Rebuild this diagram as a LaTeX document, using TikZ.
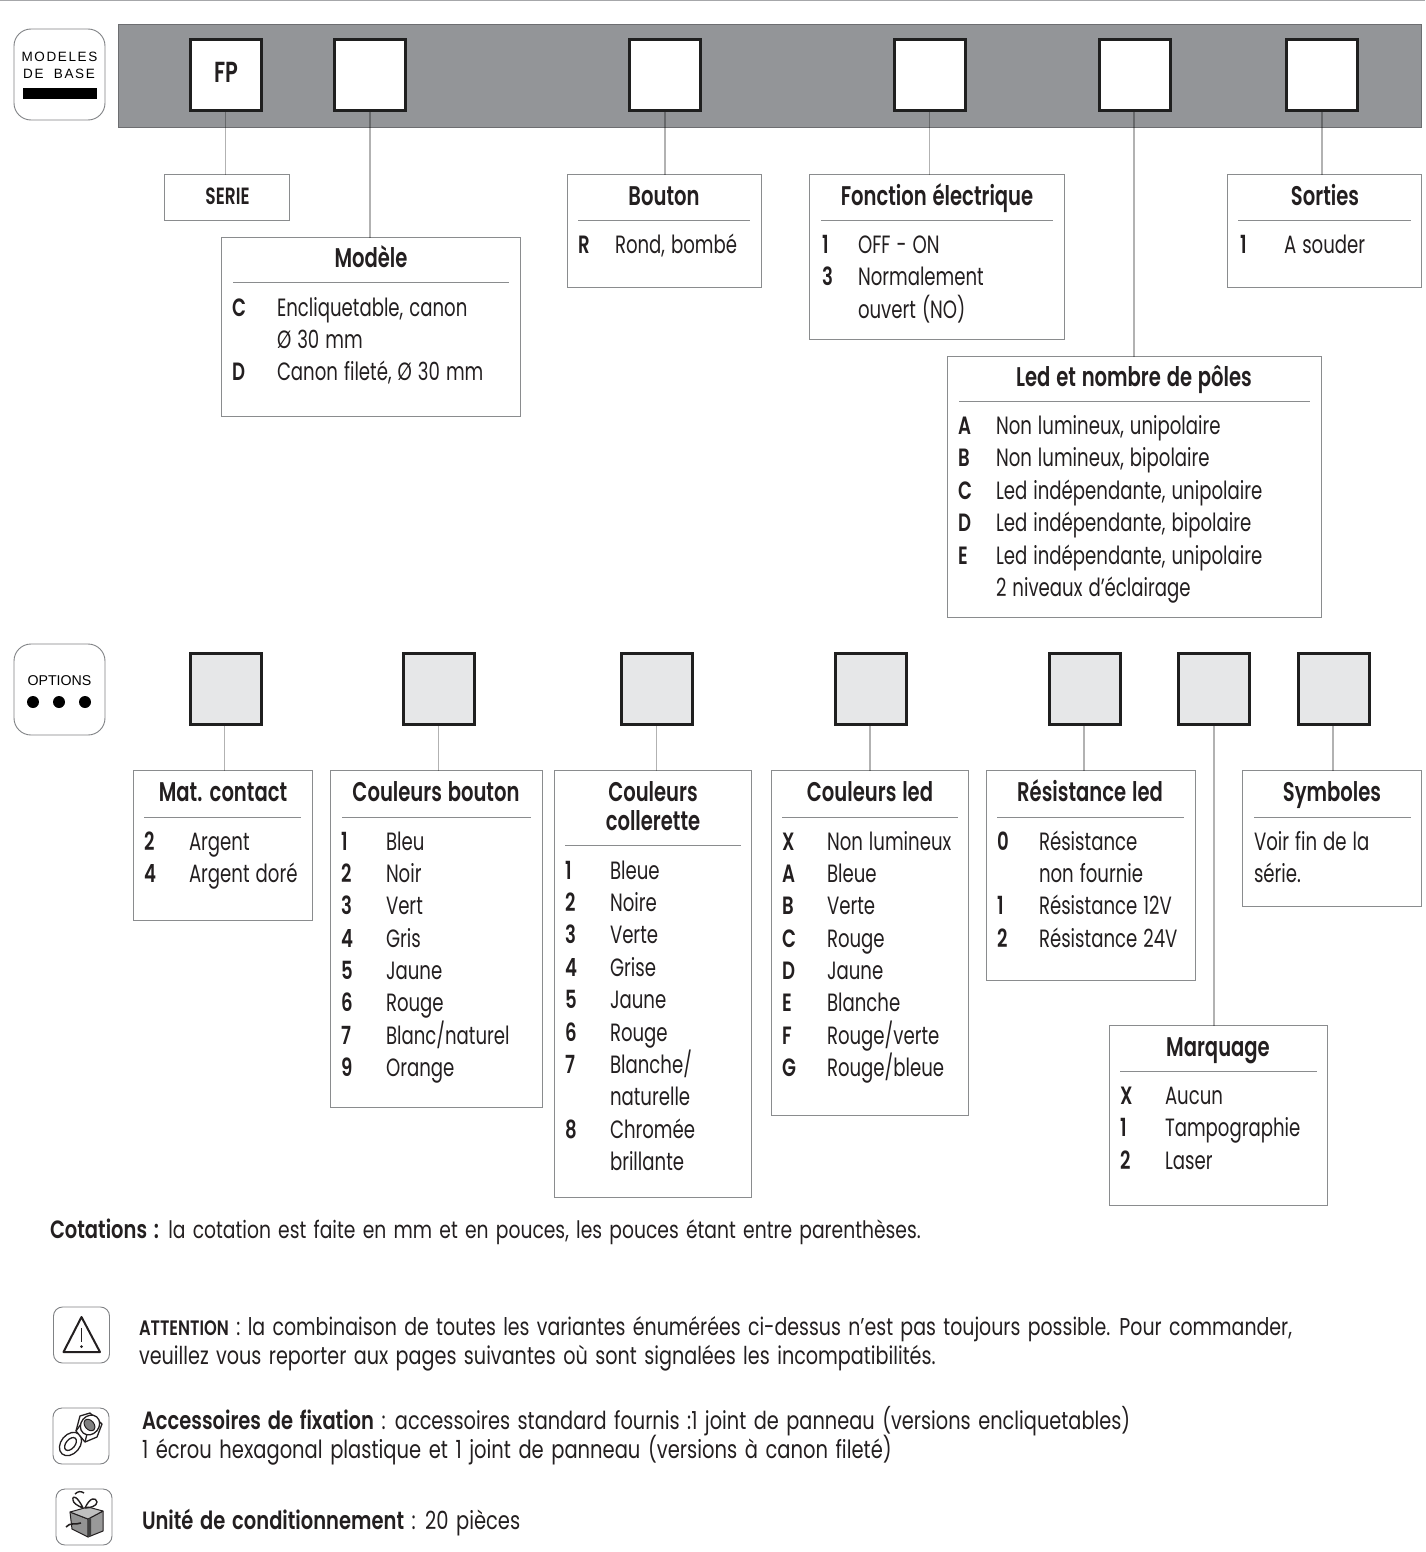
\documentclass[tikz,border=0pt]{standalone}
\usepackage{fontspec}
\setmainfont{Poppins}[FakeStretch=0.725,WordSpace=1.25,BoldFont={Poppins SemiBold}]
\newfontfamily\widef{Poppins}[FakeStretch=0.78,WordSpace=1.45,BoldFont={Poppins SemiBold}]
\newfontfamily\arl{Liberation Sans}
\tikzset{
 x=1pt,y=-1pt,
 band/.style={draw=bandedge,fill=bandgrey,line width=.8pt},
 sq/.style={draw=black!88,line width=3pt,minimum size=71pt,inner sep=0,outer sep=1.5pt},
 basesq/.style={sq,fill=white},
 optsq/.style={sq,fill=optgrey},
 panel/.style={draw=panelline,line width=.9pt,fill=white,inner sep=0,outer sep=0},
 tag/.style={draw=tagline,line width=.9pt,rounded corners=17pt,inner sep=0,outer sep=0,minimum size=91pt},
 iconbox/.style={draw=tagline,line width=.9pt,rounded corners=9pt,inner sep=0,outer sep=0,minimum size=56pt},
 conn/.style={draw=black,draw opacity=.3,line width=1.2pt},
 rulel/.style={draw=panelline,line width=.5pt},
 txt/.style={inner sep=0,outer sep=0,anchor=base west,text=ink},
 ttl/.style={inner sep=0,outer sep=0,anchor=base,text=ink,font=\fontsize{27}{29}\selectfont\bfseries},
 low/.style={txt,font=\widef\fontsize{25}{27}\selectfont},
}
\definecolor{ink}{HTML}{231F20}
\definecolor{bandgrey}{HTML}{939598}
\definecolor{bandedge}{HTML}{6D6E71}
\definecolor{optgrey}{HTML}{E6E7E8}
\definecolor{panelline}{HTML}{8A8C8E}
\definecolor{tagline}{HTML}{808285}
\newcounter{tn}
\newcommand{\bx}[5]{% name x1 y1 x2 y2
 \pgfmathsetmacro\cxx{(#2-.6+#4)/2}\pgfmathsetmacro\cyy{(#3-.2+#5)/2}
 \pgfmathsetmacro\www{#4-#2+.6}\pgfmathsetmacro\hhh{#5-#3+.2}
 \node[panel,minimum width=\www pt,minimum height=\hhh pt] (#1) at (\cxx,\cyy) {};}
\newcommand{\ttlrule}[3]{\stepcounter{tn}\node[ttl] (t\thetn) at (#1,#2+9) {#3};}
\newcommand{\rl}[3]{\draw[rulel] (#1,#3) -- (#2,#3);}
\newcommand{\rw}[5]{% keyx textx ycentre key text
 \stepcounter{tn}\node[txt,font=\fontsize{25}{27}\selectfont\bfseries] (t\thetn) at (#1,#3+8.5) {#4};
 \stepcounter{tn}\node[txt,font=\fontsize{25}{27}\selectfont] (t\thetn) at (#2,#3+8.5) {#5};}
\newcommand{\tx}[3]{\stepcounter{tn}\node[txt,font=\fontsize{25}{27}\selectfont] (t\thetn) at (#1,#2+8.5) {#3};}
\begin{document}
\begin{tikzpicture}
\useasboundingbox (0,0) rectangle (1425,1552);
\fill[white] (0,0) rectangle (1425,1552);
\draw[draw=tagline!70,line width=2pt] (0,0) -- (1425,0);
% tags
\node[tag] (tagbase) at (59.5,74.5) {};
\node[inner sep=0,text=black,font=\arl\fontsize{13.5}{15}\selectfont\addfontfeature{LetterSpace=12}] (tagbasea) at (59.5,57) {MODELES};
\node[inner sep=0,text=black,font=\arl\fontsize{13.5}{15}\selectfont\addfontfeature{LetterSpace=12}] (tagbaseb) at (59,74) {DE\hspace{5pt} BASE};
\fill[black] (23,88) rectangle (97,99);
\node[tag] (tagopt) at (59.5,689.5) {};
\node[inner sep=0,text=black,font=\arl\fontsize{14.2}{17}\selectfont] (tagopta) at (59.5,681) {OPTIONS};
\foreach \x in {33,59,85} \fill[black] (\x,702) circle (6);
% band
\node[band,minimum width=1303pt,minimum height=103pt,inner sep=0] (band) at (769.8,75.5) {};
% panels row 1
\bx{serie}{165}{175}{289}{220}
\bx{modele}{222}{238}{520}{416}
\bx{bouton}{568}{175}{761}{287}
\bx{fonction}{810}{175}{1064}{339}
\bx{sorties}{1228}{175}{1421}{287}
\bx{led}{948}{357}{1321}{617}
% options panels
\bx{mat}{134}{771}{312}{920}
\bx{coulb}{331}{771}{542}{1107}
\bx{coulc}{555}{771}{751}{1197}
\bx{coull}{772}{771}{968}{1115}
\bx{resi}{987}{771}{1195}{980}
\bx{symb}{1243}{771}{1421}{906}
\bx{marq}{1110}{1026}{1327}{1205}
% squares
\node[basesq] (b1) at (225.5,75.5) {};
\node[basesq] (b2) at (370,75.5) {};
\node[basesq] (b3) at (665,75.5) {};
\node[basesq] (b4) at (929.5,75.5) {};
\node[basesq] (b5) at (1135,75.5) {};
\node[basesq] (b6) at (1322,75.5) {};
\node[inner sep=0,text=ink,font=\fontsize{29}{30}\selectfont\bfseries] (fp) at (226,72) {FP};
\node[optsq] (o1) at (225.5,689) {};
\node[optsq] (o2) at (438.5,689) {};
\node[optsq] (o3) at (656.5,689) {};
\node[optsq] (o4) at (871,689) {};
\node[optsq] (o5) at (1085,689) {};
\node[optsq] (o6) at (1214,689) {};
\node[optsq] (o7) at (1334,689) {};
% connectors
\draw[conn] (b1.south) -- (b1.south |- serie.north);
\draw[conn] (b2.south) -- (b2.south |- modele.north);
\draw[conn] (b3.south) -- (b3.south |- bouton.north);
\draw[conn] (b4.south) -- (b4.south |- fonction.north);
\draw[conn] ([xshift=-1pt]b5.south) -- ([xshift=-1pt]b5.south |- led.north);
\draw[conn] (b6.south) -- (b6.south |- sorties.north);
\draw[conn] ([xshift=-1pt]o1.south) -- ([xshift=-1pt]o1.south |- mat.north);
\draw[conn] (o2.south) -- (o2.south |- coulb.north);
\draw[conn] (o3.south) -- (o3.south |- coulc.north);
\draw[conn] ([xshift=-1pt]o4.south) -- ([xshift=-1pt]o4.south |- coull.north);
\draw[conn] ([xshift=-1pt]o5.south) -- ([xshift=-1pt]o5.south |- resi.north);
\draw[conn] (o6.south) -- (o6.south |- marq.north);
\draw[conn] ([xshift=-1pt]o7.south) -- ([xshift=-1pt]o7.south |- symb.north);
% serie
\node[ttl,font=\fontsize{23.5}{25}\selectfont\bfseries] (serietxt) at (227.5,204.5) {SERIE};
% modele
\ttlrule{371}{258}{Modèle}\rl{233}{509}{282.5}
\rw{232}{277}{308}{C}{Encliquetable, canon}
\tx{277}{340}{Ø 30 mm}
\rw{232}{277}{372}{D}{Canon fileté, Ø 30 mm}
% bouton
\ttlrule{664}{196}{Bouton}\rl{578}{750}{220}
\rw{578}{615}{245}{R}{Rond, bombé}
% fonction
\ttlrule{937}{196}{Fonction électrique}\rl{821}{1053}{220}
\rw{822}{858}{245}{1}{OFF - ON}
\rw{822}{858}{277}{3}{Normalement}
\tx{858}{310}{ouvert (NO)}
% sorties
\ttlrule{1325}{196}{Sorties}\rl{1238}{1411}{220}
\rw{1240}{1284}{245}{1}{A souder}
% led
\ttlrule{1134}{377}{Led et nombre de pôles}\rl{959}{1310}{401}
\rw{958}{996}{426}{A}{Non lumineux, unipolaire}
\rw{958}{996}{458}{B}{Non lumineux, bipolaire}
\rw{958}{996}{491}{C}{Led indépendante, unipolaire}
\rw{958}{996}{523}{D}{Led indépendante, bipolaire}
\rw{958}{996}{556}{E}{Led indépendante, unipolaire}
\tx{996}{588}{2 niveaux d’éclairage}
% mat
\ttlrule{223}{792}{Mat. contact}\rl{144}{301}{817}
\rw{144}{189}{842}{2}{Argent}
\rw{144}{189}{874}{4}{Argent doré}
% coul b
\ttlrule{436}{792}{Couleurs bouton}\rl{342}{531}{817}
\rw{341}{386}{842}{1}{Bleu}
\rw{341}{386}{874}{2}{Noir}
\rw{341}{386}{906}{3}{Vert}
\rw{341}{386}{939}{4}{Gris}
\rw{341}{386}{971}{5}{Jaune}
\rw{341}{386}{1003}{6}{Rouge}
\rw{341}{386}{1036}{7}{Blanc/naturel}
\rw{341}{386}{1068}{9}{Orange}
% coul c
\ttlrule{653}{792}{Couleurs}
\ttlrule{653}{821}{collerette}\rl{565}{741}{845}
\rw{565}{610}{871}{1}{Bleue}
\rw{565}{610}{903}{2}{Noire}
\rw{565}{610}{935}{3}{Verte}
\rw{565}{610}{968}{4}{Grise}
\rw{565}{610}{1000}{5}{Jaune}
\rw{565}{610}{1033}{6}{Rouge}
\rw{565}{610}{1065}{7}{Blanche/}
\tx{610}{1097}{naturelle}
\rw{565}{610}{1130}{8}{Chromée}
\tx{610}{1162}{brillante}
% coul l
\ttlrule{870}{792}{Couleurs led}\rl{782}{958}{817}
\rw{782}{827}{842}{X}{Non lumineux}
\rw{782}{827}{874}{A}{Bleue}
\rw{782}{827}{906}{B}{Verte}
\rw{782}{827}{939}{C}{Rouge}
\rw{782}{827}{971}{D}{Jaune}
\rw{782}{827}{1003}{E}{Blanche}
\rw{782}{827}{1036}{F}{Rouge/verte}
\rw{782}{827}{1068}{G}{Rouge/bleue}
% resi
\ttlrule{1090}{792}{Résistance led}\rl{997}{1184}{817}
\rw{997}{1039}{842}{0}{Résistance}
\tx{1039}{874}{non fournie}
\rw{997}{1039}{906}{1}{Résistance 12V}
\rw{997}{1039}{939}{2}{Résistance 24V}
% symb
\ttlrule{1332}{792}{Symboles}\rl{1254}{1411}{817}
\tx{1254}{842}{Voir fin de la}
\tx{1254}{874}{série.}
% marq
\ttlrule{1218}{1047}{Marquage}\rl{1120}{1317}{1071}
\rw{1120}{1165}{1096}{X}{Aucun}
\rw{1120}{1165}{1128}{1}{Tampographie}
\rw{1120}{1165}{1161}{2}{Laser}
% bottom
\node[low] (cot) at (50,1238) {\textbf{Cotations :} \fontsize{24}{27}\selectfont la cotation est faite en mm et en pouces, les pouces étant entre parenthèses.};
\node[low] (att1) at (139,1335) {{\fontsize{20.9}{22}\selectfont\bfseries ATTENTION} \fontsize{24.3}{27}\selectfont : la combinaison de toutes les variantes énumérées ci-dessus n’est pas toujours possible. Pour commander,};
\node[low,font=\widef\fontsize{24.6}{27}\selectfont] (att2) at (139,1364) {veuillez vous reporter aux pages suivantes où sont signalées les incompatibilités.};
\node[low] (acc1) at (142,1429) {\textbf{Accessoires de fixation} \fontsize{24.8}{27}\selectfont : accessoires standard fournis :1 joint de panneau (versions encliquetables)};
\node[low] (acc2) at (142,1458) {1 écrou hexagonal plastique et 1 joint de panneau (versions à canon fileté)};
\node[low] (uni) at (142,1529) {\textbf{Unité de conditionnement} : 20 pièces};
% icons
\node[iconbox] (ic1) at (81.5,1335) {};
\node[iconbox] (ic2) at (81,1436) {};
\node[iconbox] (ic3) at (84,1517) {};
\draw[ink,line width=2pt,line join=round] (81.5,1317) -- (100,1352) -- (63.5,1352) -- cycle;
\draw[ink,line width=1.5pt] (81.5,1328) -- (81.5,1342);
\fill[ink] (81.5,1346.5) circle (1.5);
% nut
\begin{scope}[ink,line width=1.3pt]
\draw[fill=white] (70.5,1444) ellipse[x radius=13,y radius=9.5,rotate=50];
\draw[fill=white] (70.5,1444) ellipse[x radius=7.5,y radius=4.5,rotate=50];
\draw[fill=white,line join=round] (76,1431) -- (80,1416) -- (90,1413) -- (102,1424) -- (97,1437) -- (85,1442) -- cycle;
\draw (76,1431) -- (81,1424);
\draw (85,1442) -- (87,1434);
\draw[fill=white] (90,1425) ellipse[x radius=10.5,y radius=9,rotate=50];
\draw[fill=gray,line width=1pt] (89.5,1425) ellipse[x radius=6.5,y radius=4.5,rotate=-50];
\end{scope}
% gift
\begin{scope}[ink,line width=1pt,line join=round]
\draw[fill=gray!85] (70,1512) -- (88,1519) -- (88,1537) -- (72,1529) -- cycle;
\draw[fill=gray!80] (88,1519) -- (103,1511) -- (103,1531) -- (88,1537) -- cycle;
\draw[fill=gray!50] (70,1512) -- (88,1507) -- (103,1511) -- (88,1519) -- cycle;
\fill[black!75] (88,1519) -- (91,1518) -- (91,1536) -- (88,1537) -- cycle;
\draw[line width=1.4pt] (83,1508) .. controls (78,1497) and (72,1494) .. (73,1500) .. controls (73,1503) and (78,1506) .. (83,1508);
\draw[line width=1.4pt] (85,1508) .. controls (90,1497) and (96,1497) .. (97,1502) .. controls (97,1506) and (90,1508) .. (85,1508);
\draw[line width=1.4pt] (75,1494) .. controls (78,1491) and (81,1491) .. (84,1493);
\draw[line width=1.6pt] (66,1527) .. controls (70,1522) and (76,1525) .. (81,1523);
\end{scope}
\end{tikzpicture}
\end{document}
